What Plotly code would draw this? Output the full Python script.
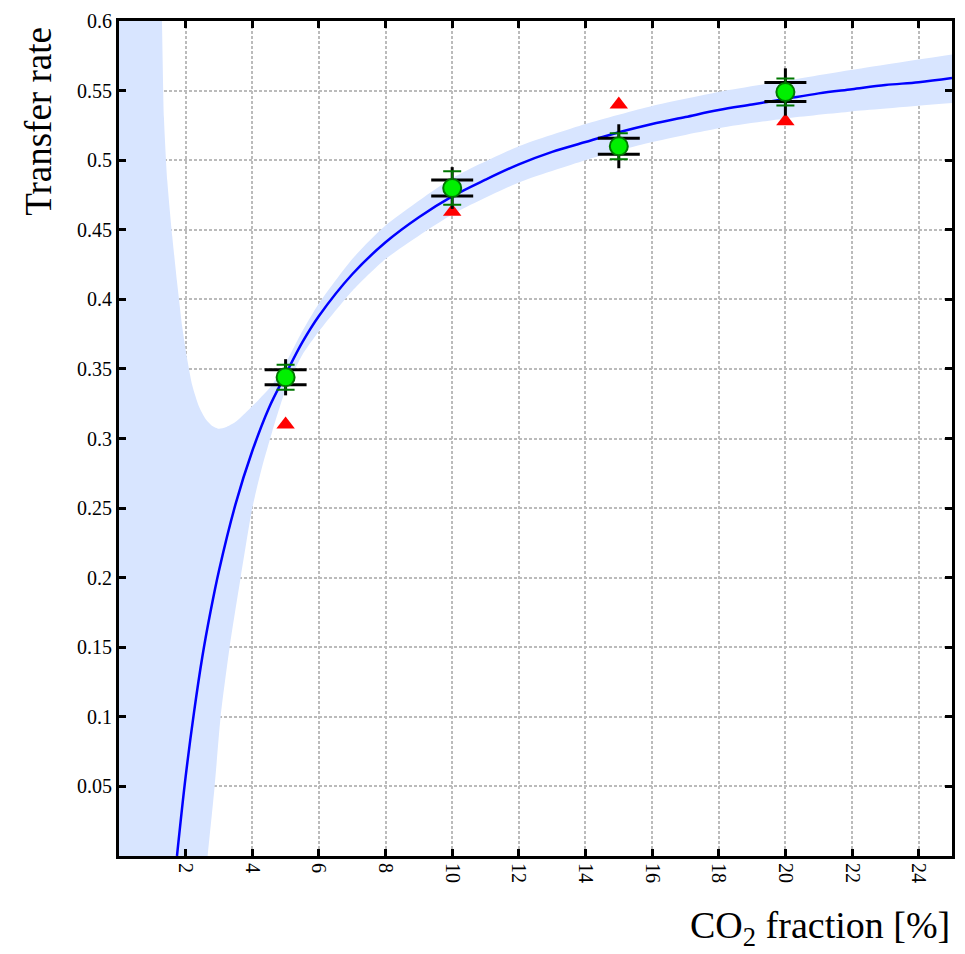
import plotly.graph_objects as go

# Measured transfer rate vs CO2 fraction
co2 = [5, 10, 15, 20]
rate = [0.344, 0.480, 0.510, 0.549]
rate_err = [0.009, 0.012, 0.0093, 0.0097]      # green error bars
stat_err = [0.013, 0.015, 0.0158, 0.017]       # black vertical bars
sys_err = [0.0054, 0.0057, 0.0057, 0.0068]     # black horizontal bars
sys_halfwidth = 0.63

# Alternative measurement (red triangles)
alt_rate = [0.310, 0.463, 0.540, 0.528]

# Fitted curve
fit_x = [1.74, 2.0, 2.25, 2.5, 2.75, 3.0, 3.5, 4.0, 4.5, 5.0, 5.5, 6, 7, 8,
         9, 10, 11, 12, 13, 14, 15, 16, 17, 18, 19, 20, 21, 22, 23, 24, 25]
fit_y = [0.0, 0.057, 0.103, 0.143, 0.176, 0.205, 0.253, 0.291, 0.322,
         0.346, 0.369, 0.388, 0.418, 0.441, 0.459, 0.474, 0.486, 0.497,
         0.506, 0.513, 0.520, 0.526, 0.531, 0.536, 0.540, 0.544, 0.548,
         0.551, 0.554, 0.556, 0.559]

# Confidence band of the fit (edges continue past the axis range)
band_up_x = [0, 1.05, 1.18, 1.29, 1.35, 1.45, 1.6, 1.74, 1.9, 2.04, 2.2,
             2.4, 2.6, 2.8, 3.0, 3.2, 3.5, 3.86, 4.2, 4.58, 5.0, 5.5, 6, 7,
             8, 10, 12, 14, 16, 18, 20, 22, 25]
band_up_y = [0.9, 0.9, 0.74, 0.6, 0.53, 0.485, 0.445, 0.413, 0.38, 0.358,
             0.338, 0.323, 0.314, 0.309, 0.307, 0.308, 0.312, 0.320, 0.328,
             0.338, 0.354, 0.377, 0.397, 0.429, 0.453, 0.487, 0.510, 0.526,
             0.539, 0.549, 0.557, 0.565, 0.576]
band_lo_x = [0, 2.1, 2.4, 2.66, 2.87, 3.05, 3.32, 3.65, 4.0, 4.3, 4.6, 5.0,
             5.5, 6, 7, 8, 10, 12, 14, 16, 18, 20, 22, 25]
band_lo_y = [-0.12, -0.12, -0.06, 0.0, 0.05, 0.10, 0.15, 0.20, 0.25, 0.280,
             0.305, 0.335, 0.360, 0.377, 0.406, 0.429, 0.461, 0.484, 0.500,
             0.513, 0.523, 0.530, 0.535, 0.541]

x_ticks = [2, 4, 6, 8, 10, 12, 14, 16, 18, 20, 22, 24]
y_ticks = [0.05, 0.1, 0.15, 0.2, 0.25, 0.3, 0.35, 0.4, 0.45, 0.5, 0.55, 0.6]
y_tick_text = ["0.05", "0.1", "0.15", "0.2", "0.25", "0.3", "0.35", "0.4",
               "0.45", "0.5", "0.55", "0.6"]

SERIF = "Liberation Serif"
BAND = "#d8e5ff"

fig = go.Figure()

# lower edge of the band, then the upper edge filled down to it
fig.add_trace(go.Scatter(
    x=band_lo_x, y=band_lo_y, mode="lines",
    line=dict(width=0, color=BAND, shape="spline", smoothing=0.6),
    hoverinfo="skip"))
fig.add_trace(go.Scatter(
    x=band_up_x, y=band_up_y, mode="lines", fill="tonexty", fillcolor=BAND,
    line=dict(width=0, color=BAND, shape="spline", smoothing=0.6),
    hoverinfo="skip"))

fig.add_trace(go.Scatter(
    x=fit_x, y=fit_y, mode="lines",
    line=dict(color="#0000ff", width=2.5, shape="spline", smoothing=1.0)))

fig.add_trace(go.Scatter(
    x=co2, y=alt_rate, mode="markers",
    marker=dict(symbol="triangle-up", size=16, color="#ff0000",
                line=dict(width=0))))

# black vertical bars
fig.add_trace(go.Scatter(
    x=co2, y=rate, mode="markers", marker=dict(size=1, opacity=0),
    error_y=dict(type="data", array=stat_err, color="black",
                 thickness=3, width=0)))

# black horizontal bars
sx, sy = [], []
for xi, yi, si in zip(co2, rate, sys_err):
    for yy in (yi + si, yi - si):
        sx += [xi - sys_halfwidth, xi + sys_halfwidth, None]
        sy += [yy, yy, None]
fig.add_trace(go.Scatter(x=sx, y=sy, mode="lines",
                         line=dict(color="black", width=3)))

fig.add_trace(go.Scatter(
    x=co2, y=rate, mode="markers",
    marker=dict(symbol="circle", size=18, color="#00f000",
                line=dict(color="#007700", width=2)),
    error_y=dict(type="data", array=rate_err, color="#007700",
                 thickness=2, width=9)))

axis_common = dict(
    showline=True, linewidth=3, linecolor="black", mirror="ticks",
    ticks="inside", ticklen=7, tickwidth=3, tickcolor="black",
    showgrid=True, gridcolor="#bbbbbb", gridwidth=2, griddash="3px,2px",
    zeroline=False, tickfont=dict(family=SERIF, size=20, color="black"),
)

fig.update_xaxes(range=[0, 25], tickvals=x_ticks, tickangle=90,
                 **axis_common)
fig.update_yaxes(range=[0, 0.6], tickvals=y_ticks, ticktext=y_tick_text,
                 **axis_common)

fig.add_annotation(
    text="CO<sub>2</sub> fraction [%]", xref="paper", yref="paper",
    x=1.0, y=-0.086, xanchor="right", yanchor="middle", showarrow=False,
    font=dict(family=SERIF, size=38, color="black"))
fig.add_annotation(
    text="Transfer rate", xref="paper", yref="paper", textangle=-90,
    x=-0.097, y=0.995, xanchor="center", yanchor="top", showarrow=False,
    font=dict(family=SERIF, size=37, color="black"))

fig.update_layout(
    width=965, height=954, showlegend=False,
    font=dict(family=SERIF),
    plot_bgcolor="white", paper_bgcolor="white",
    margin=dict(l=119, r=10, t=19, b=98),
)

fig.write_html("out.html")
